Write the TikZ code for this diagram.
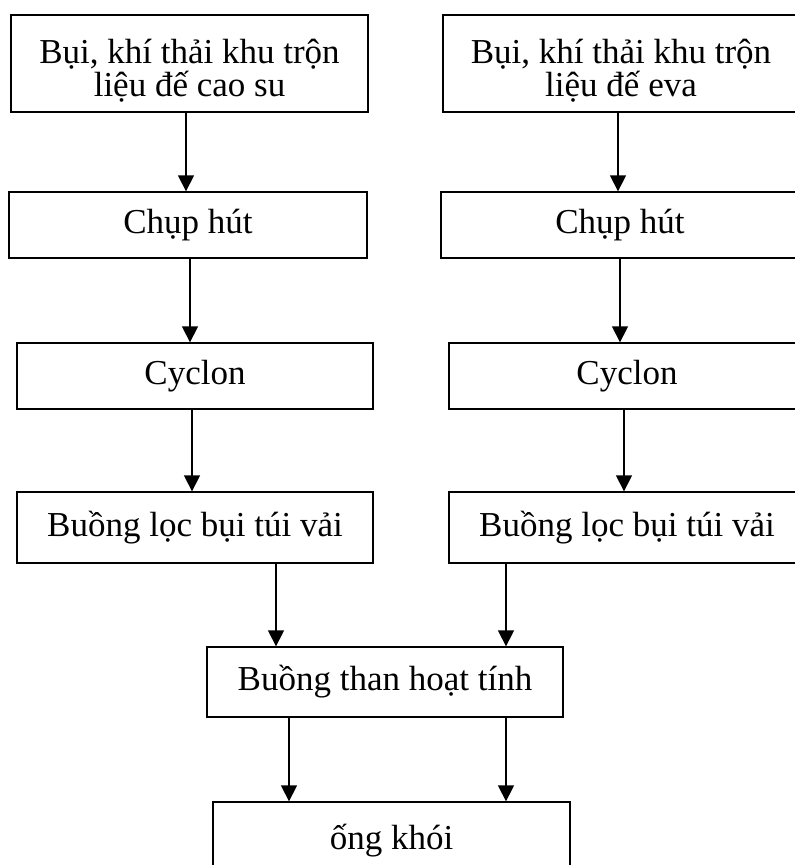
\documentclass[tikz,border=0pt]{standalone}
\usepackage{fontspec}
\setmainfont{Liberation Serif}
\usetikzlibrary{arrows.meta}
\begin{document}
\begin{tikzpicture}[x=1pt,y=-1pt,
  boxfont/.style={font=\fontsize{35}{33}\selectfont},
  box/.style={draw,line width=1.3pt,inner sep=0pt,align=center,boxfont},
  twoline/.style={label={[boxfont,align=center,inner sep=0pt,yshift=-7pt]center:#1}},
  flow/.style={line width=1.3pt,-{Triangle[width=16pt,length=16pt]}}]
\useasboundingbox (0,0) rectangle (795,865);
\clip (0,0) rectangle (795,865);
% left column
\node[box,minimum width=357pt,minimum height=97pt,
  twoline={Bụi, khí thải khu trộn\\liệu đế cao su}] (b1) at (189.5,63.5) {};
\node[box,minimum width=358pt,minimum height=66pt] (c1) at (188,225) {Chụp hút};
\node[box,minimum width=356pt,minimum height=66pt] (y1) at (195,376) {Cyclon};
\node[box,minimum width=356pt,minimum height=71pt] (l1) at (195,527.5) {Buồng lọc bụi túi vải};
% right column
\node[box,minimum width=356pt,minimum height=97pt,
  twoline={Bụi, khí thải khu trộn\\liệu đế eva}] (b2) at (621,63.5) {};
\node[box,minimum width=358pt,minimum height=66pt] (c2) at (620,225) {Chụp hút};
\node[box,minimum width=356pt,minimum height=66pt] (y2) at (627,376) {Cyclon};
\node[box,minimum width=356pt,minimum height=71pt] (l2) at (627,527.5) {Buồng lọc bụi túi vải};
% merged part
\node[box,minimum width=356pt,minimum height=70pt] (t) at (385,682) {Buồng than hoạt tính};
\node[box,minimum width=357pt,minimum height=78pt] (o) at (391.5,841) {ống khói};
% connectors
\draw[flow] (b1.south -| 186,0) -- (c1.north -| 186,0);
\draw[flow] (c1.south -| 190,0) -- (y1.north -| 190,0);
\draw[flow] (y1.south -| 192,0) -- (l1.north -| 192,0);
\draw[flow] (b2.south -| 618,0) -- (c2.north -| 618,0);
\draw[flow] (c2.south -| 620,0) -- (y2.north -| 620,0);
\draw[flow] (y2.south -| 624,0) -- (l2.north -| 624,0);
\draw[flow] (l1.south -| 276,0) -- (t.north -| 276,0);
\draw[flow] (l2.south -| 506,0) -- (t.north -| 506,0);
\draw[flow] (t.south -| 289,0) -- (o.north -| 289,0);
\draw[flow] (t.south -| 506,0) -- (o.north -| 506,0);
\end{tikzpicture}
\end{document}
